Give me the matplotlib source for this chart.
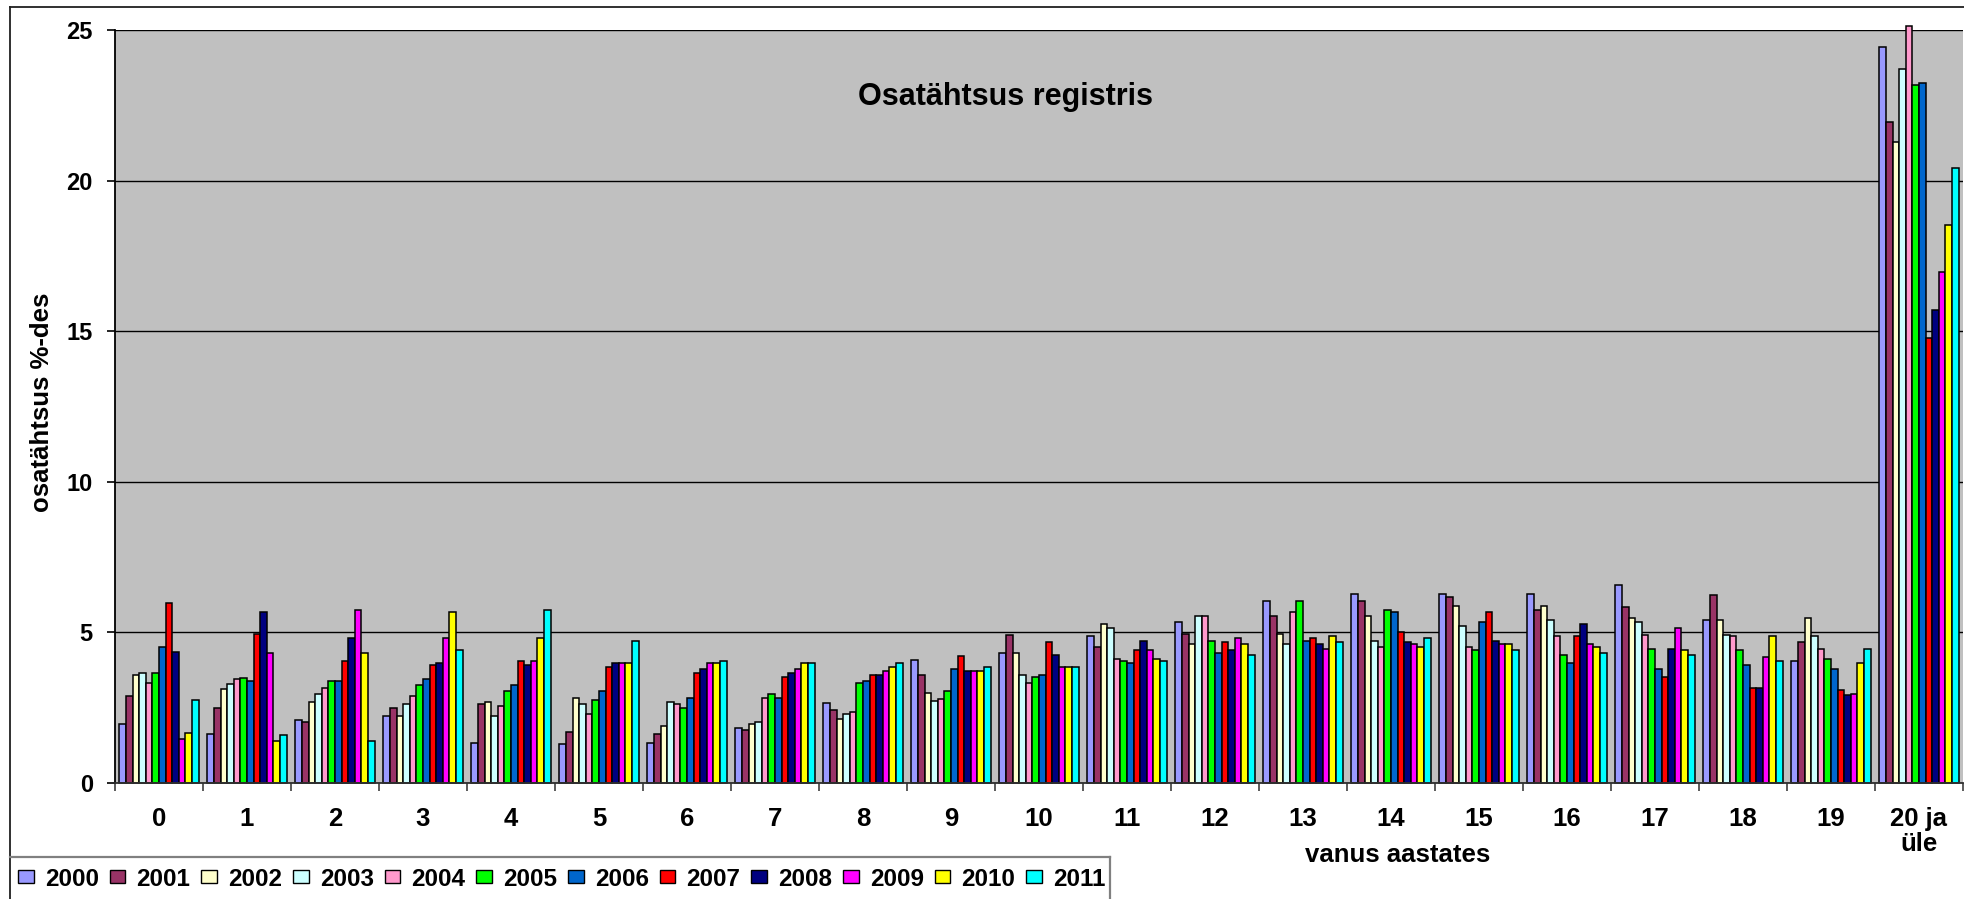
import numpy as np
import matplotlib.pyplot as plt
from matplotlib.patches import Patch
from matplotlib.lines import Line2D

plt.rcParams["font.family"] = ["Liberation Sans", "DejaVu Sans"]
plt.rcParams["font.weight"] = "bold"

GROUPS = [str(i) for i in range(20)] + ["20 ja\nüle"]
YEARS = ["2000", "2001", "2002", "2003", "2004", "2005",
         "2006", "2007", "2008", "2009", "2010", "2011"]
COLORS = ["#9999FF", "#993366", "#FFFFCC", "#CCFFFF", "#FF99CC", "#00FF00",
          "#0066CC", "#FF0000", "#000080", "#FF00FF", "#FFFF00", "#00FFFF"]

y2000 = [1.95, 1.62, 2.09, 2.23, 1.34, 1.28, 1.34, 1.83, 2.65, 4.07, 4.33,
         4.88, 5.36, 6.03, 6.29, 6.29, 6.29, 6.57, 5.41, 4.06, 24.45]
y2001 = [2.90, 2.50, 2.02, 2.50, 2.63, 1.69, 1.62, 1.75, 2.43, 3.58, 4.93,
         4.53, 4.94, 5.55, 6.03, 6.16, 5.76, 5.83, 6.23, 4.68, 21.95]
y2002 = [3.57, 3.11, 2.70, 2.23, 2.70, 2.83, 1.89, 1.95, 2.14, 2.98, 4.33,
         5.29, 4.60, 4.94, 5.55, 5.89, 5.89, 5.48, 5.41, 5.48, 21.29]
y2003 = [3.65, 3.30, 2.96, 2.63, 2.23, 2.63, 2.70, 2.02, 2.30, 2.71, 3.58,
         5.15, 5.55, 4.60, 4.73, 5.21, 5.41, 5.35, 4.93, 4.87, 23.72]
y2004 = [3.31, 3.45, 3.17, 2.90, 2.57, 2.30, 2.63, 2.83, 2.37, 2.78, 3.31,
         4.12, 5.55, 5.69, 4.53, 4.53, 4.88, 4.93, 4.88, 4.46, 25.13]
y2005 = [3.65, 3.50, 3.38, 3.24, 3.05, 2.77, 2.50, 2.97, 3.31, 3.05, 3.52,
         4.06, 4.73, 6.03, 5.75, 4.40, 4.26, 4.46, 4.40, 4.12, 23.16]
y2006 = [4.53, 3.38, 3.38, 3.45, 3.25, 3.05, 2.83, 2.83, 3.38, 3.78, 3.58,
         3.98, 4.32, 4.73, 5.69, 5.36, 3.98, 3.78, 3.92, 3.78, 23.25]
y2007 = [5.96, 4.94, 4.06, 3.92, 4.06, 3.86, 3.66, 3.52, 3.58, 4.20, 4.69,
         4.40, 4.67, 4.80, 5.01, 5.69, 4.88, 3.52, 3.17, 3.10, 14.76]
y2008 = [4.34, 5.69, 4.80, 3.98, 3.93, 4.00, 3.78, 3.66, 3.58, 3.72, 4.26,
         4.73, 4.40, 4.60, 4.67, 4.73, 5.29, 4.46, 3.17, 2.91, 15.70]
y2009 = [1.46, 4.33, 5.75, 4.80, 4.06, 4.00, 4.00, 3.78, 3.72, 3.72, 3.85,
         4.40, 4.80, 4.46, 4.60, 4.60, 4.60, 5.15, 4.19, 2.97, 16.98]
y2010 = [1.67, 1.41, 4.33, 5.69, 4.80, 4.00, 4.00, 4.00, 3.85, 3.72, 3.85,
         4.12, 4.60, 4.88, 4.53, 4.60, 4.53, 4.40, 4.88, 3.98, 18.53]
y2011 = [2.77, 1.61, 1.41, 4.40, 5.75, 4.73, 4.06, 4.00, 3.98, 3.85, 3.85,
         4.06, 4.26, 4.67, 4.80, 4.40, 4.33, 4.26, 4.06, 4.46, 20.41]

SERIES = [y2000, y2001, y2002, y2003, y2004, y2005,
          y2006, y2007, y2008, y2009, y2010, y2011]

W, H = 1964, 899
fig = plt.figure(figsize=(W / 100, H / 100), dpi=100)
ax = fig.add_axes([115 / W, 1 - 783 / H, (1963 - 115) / W, (783 - 30) / H])
ax.set_facecolor("#C0C0C0")

x = np.arange(len(GROUPS))
w = 0.9 / len(YEARS)
for j, (vals, col) in enumerate(zip(SERIES, COLORS)):
    ax.bar(x + (j - 5.5) * w, vals, width=w, color=col, edgecolor="black",
           linewidth=1.1, zorder=2, clip_on=False)

ax.set_xlim(-0.5, len(GROUPS) - 0.5)
ax.set_ylim(0, 25)
ax.set_yticks(np.arange(0, 26, 5))
ax.yaxis.grid(True, color="black", linewidth=1.0)
ax.set_axisbelow(True)

ax.set_xticks(x)
ax.set_xticklabels(GROUPS, fontsize=18.5, fontweight="bold", linespacing=1.05)
ax.set_xticks(np.arange(-0.5, len(GROUPS), 1), minor=True)
ax.tick_params(axis="x", which="major", length=0, pad=17)
ax.tick_params(axis="x", which="minor", length=6, width=1.2, color="#404040")
ax.tick_params(axis="y", length=6, width=1.2, pad=10, labelsize=17)
for lab in ax.get_yticklabels():
    lab.set_fontweight("bold")

for s in ["top", "right"]:
    ax.spines[s].set_visible(False)
ax.spines["left"].set_linewidth(1.3)
ax.spines["bottom"].set_linewidth(1.3)
ax.spines["bottom"].set_color("#303030")

fig.text(1006 / W, 1 - 97 / H, "Osatähtsus registris", ha="center",
         va="center", fontsize=22, fontweight="bold")
fig.text(1398 / W, 1 - 862 / H, "vanus aastates", ha="center",
         va="baseline", fontsize=18.5, fontweight="bold")
fig.text(42 / W, 1 - 402 / H, "osatähtsus %-des", ha="center", va="center",
         rotation=90, fontsize=18.5, fontweight="bold")

# chart border and legend box
fig.add_artist(Line2D([10 / W, 10 / W], [0, 1 - 7 / H], color="#202020", lw=1.3))
fig.add_artist(Line2D([10 / W, 1], [1 - 7 / H, 1 - 7 / H], color="#202020", lw=1.3))
fig.add_artist(Line2D([10 / W, 1110 / W], [1 - 857 / H, 1 - 857 / H],
                      color="#808080", lw=1.6))
fig.add_artist(Line2D([1110 / W, 1110 / W], [0, 1 - 857 / H],
                      color="#808080", lw=1.6))

handles = [Patch(facecolor=c, edgecolor="black", linewidth=1.0) for c in COLORS]
fig.legend(handles, YEARS, loc="center left",
           bbox_to_anchor=(18 / W, 1 - 879 / H), ncol=len(YEARS),
           frameon=False, handlelength=0.65, handleheight=0.45,
           handletextpad=0.45, columnspacing=0.45, borderpad=0,
           borderaxespad=0, prop={"weight": "bold", "size": 17.5})

fig.savefig("out.png", dpi=100)
